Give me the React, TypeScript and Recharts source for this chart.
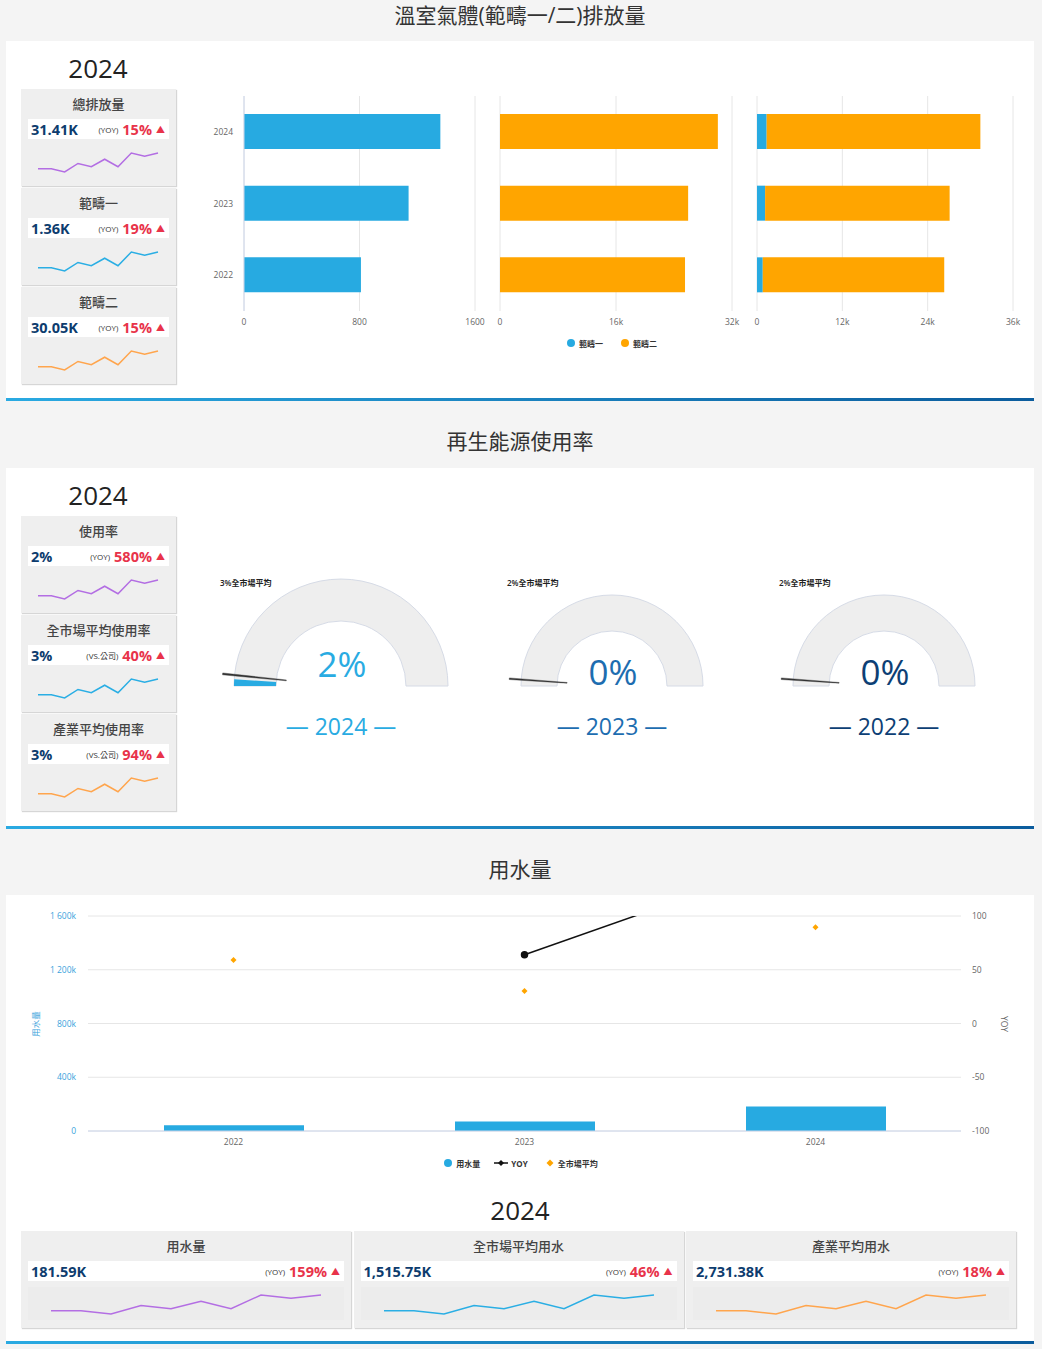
import React from 'react';
import {
  BarChart,
  Bar,
  XAxis,
  YAxis,
  CartesianGrid,
  PieChart,
  Pie,
  Cell,
  LineChart,
  Line,
  ComposedChart,
  Scatter,
} from 'recharts';

const FONT = '"Open Sans", "Noto Sans CJK TC", sans-serif';
const BLUE = '#27aae1';
const ORANGE = '#ffa500';
const NAVY = '#0d3c6e';
const RED = '#e8334a';

// ---- 溫室氣體 ----
const ghgYears = ['2024', '2023', '2022'];
const scope1 = [1360, 1140, 810];
const scope2 = [30050, 25950, 25520];
const ghgNames = ['範疇一', '範疇二'];
const ghgTicks1 = [0, 800, 1600];
const ghgTicks2 = [0, 16000, 32000];
const ghgTicks3 = [0, 12000, 24000, 36000];
const ghgCards = [
  { title: '總排放量', value: '31.41K', tag: '(YOY)', change: '15%' },
  { title: '範疇一', value: '1.36K', tag: '(YOY)', change: '19%' },
  { title: '範疇二', value: '30.05K', tag: '(YOY)', change: '15%' },
];

// ---- 再生能源 ----
const energyCards = [
  { title: '使用率', value: '2%', tag: '(YOY)', change: '580%' },
  { title: '全市場平均使用率', value: '3%', tag: '(VS.公司)', change: '40%' },
  { title: '產業平均使用率', value: '3%', tag: '(VS.公司)', change: '94%' },
];
const gaugeYears = ['2024', '2023', '2022'];
const usageRate = [2, 0, 0];
const marketRate = [3, 2, 2];
const gaugeColors = ['#29abe2', '#1d6db0', '#0d3f75'];

// ---- 用水量 ----
const waterYears = ['2022', '2023', '2024'];
const waterUsage = [42700, 70100, 181590];
const waterYoy = [null, 64, 159];
const waterMarket = [1273000, 1041000, 1515750];
const waterLeftTicks = [0, 400000, 800000, 1200000, 1600000];
const waterRightTicks = [-100, -50, 0, 50, 100];
const waterNames = ['用水量', 'YOY', '全市場平均'];
const waterCards = [
  { title: '用水量', value: '181.59K', tag: '(YOY)', change: '159%' },
  { title: '全市場平均用水', value: '1,515.75K', tag: '(YOY)', change: '46%' },
  { title: '產業平均用水', value: '2,731.38K', tag: '(YOY)', change: '18%' },
];

// sparkline trend used by every card
const sparkTrend = [13, 13, 3, 29, 19, 42, 19, 61, 51, 61];
const sparkColors = ['#b36ee3', '#2aaee4', '#ffa54d'];

const sparkData = sparkTrend.map((v, i) => ({ i, v }));
const tickStyle = { fontSize: 8.5, fill: '#666', fontFamily: FONT };
const kFmt = (v: number) => (v === 0 ? '0' : `${v / 1000}k`);

type CardInfo = { title: string; value: string; tag: string; change: string };

function KpiCard({ card, x, y, w, color, wide }: { card: CardInfo; x: number; y: number; w: number; color: string; wide?: boolean }) {
  const sparkW = wide ? w - 56 : 124;
  return (
    <div
      style={{
        position: 'absolute',
        left: x,
        top: y,
        width: w,
        height: 97,
        background: '#efefef',
        boxShadow: '1px 1px 1px #d6d6d6',
      }}
    >
      <div
        style={{
          position: 'absolute',
          left: 0,
          top: 5,
          width: '100%',
          height: 20,
          lineHeight: '20px',
          textAlign: 'center',
          fontSize: 13,
          fontWeight: 500,
          color: '#444',
        }}
      >
        {card.title}
      </div>
      <div
        style={{
          position: 'absolute',
          left: 7,
          right: 7,
          top: 30,
          height: 20,
          background: '#fff',
          display: 'flex',
          alignItems: 'center',
          padding: '0 4px 0 3px',
          boxSizing: 'border-box',
        }}
      >
        <span style={{ fontSize: 14.5, fontWeight: 700, color: NAVY }}>{card.value}</span>
        <span style={{ flex: 1 }} />
        <span style={{ fontSize: 8, color: '#333', marginRight: 4 }}>{card.tag}</span>
        <span style={{ fontSize: 14.5, fontWeight: 700, color: RED }}>{card.change}</span>
        <span style={{ fontSize: 9, color: RED, marginLeft: 4 }}>▲</span>
      </div>
      {wide && (
        <div style={{ position: 'absolute', left: 7, right: 7, top: 56, height: 33, background: '#ececec' }} />
      )}
      <div style={{ position: 'absolute', left: wide ? 28 : 15, top: 62 }}>
        <LineChart width={sparkW} height={23} data={sparkData} margin={{ top: 2, right: 2, bottom: 2, left: 2 }}>
          <XAxis dataKey="i" hide />
          <YAxis hide domain={['dataMin', 'dataMax']} />
          <Line type="linear" dataKey="v" stroke={color} strokeWidth={1.5} dot={false} isAnimationActive={false} />
        </LineChart>
      </div>
    </div>
  );
}

function SectionFrame({ title, top, panelTop, panelBottom }: { title: string; top: number; panelTop: number; panelBottom: number }) {
  return (
    <>
      <div
        style={{
          position: 'absolute',
          left: 6,
          width: 1028,
          top: top,
          height: 30,
          lineHeight: '30px',
          textAlign: 'center',
          fontSize: 21,
          color: '#333',
        }}
      >
        {title}
      </div>
      <div style={{ position: 'absolute', left: 6, width: 1028, top: panelTop, height: panelBottom - panelTop, background: '#fff' }} />
      <div
        style={{
          position: 'absolute',
          left: 6,
          width: 1028,
          top: panelBottom,
          height: 3,
          background: 'linear-gradient(to right, #2aaae2, #0b5c9d)',
        }}
      />
    </>
  );
}

function YearLabel({ cx, cy }: { cx: number; cy: number }) {
  return (
    <div
      style={{
        position: 'absolute',
        left: cx - 60,
        width: 120,
        top: cy - 18,
        height: 36,
        lineHeight: '36px',
        textAlign: 'center',
        fontSize: 26,
        color: '#222',
      }}
    >
      2024
    </div>
  );
}

function Dot({ color }: { color: string }) {
  return <span style={{ display: 'inline-block', width: 8, height: 8, borderRadius: 4, background: color, marginRight: 4 }} />;
}

function Diamond({ color }: { color: string }) {
  return (
    <svg width={8} height={8} style={{ marginRight: 4 }}>
      <path d="M4,0.5L7.5,4L4,7.5L0.5,4Z" fill={color} />
    </svg>
  );
}

function LineMarker() {
  return (
    <svg width={14} height={8} style={{ marginRight: 3 }}>
      <line x1={0} y1={4} x2={14} y2={4} stroke="#111" strokeWidth={1.5} />
      <path d="M7,1L10,4L7,7L4,4Z" fill="#111" />
    </svg>
  );
}

function GhgSection() {
  const data = ghgYears.map((year, i) => ({ year, s1: scope1[i], s2: scope2[i] }));
  const xAxisCommon = { type: 'number' as const, axisLine: false, tickLine: false, tick: tickStyle, height: 20 };
  return (
    <>
      <SectionFrame title="溫室氣體(範疇一/二)排放量" top={0} panelTop={41} panelBottom={398} />
      <YearLabel cx={98} cy={68} />
      {ghgCards.map((c, i) => (
        <KpiCard key={c.title} card={c} x={21} y={89 + i * 99} w={155} color={sparkColors[i]} />
      ))}

      <div style={{ position: 'absolute', left: 190, top: 86 }}>
        <BarChart layout="vertical" width={300} height={245} data={data} margin={{ top: 10, right: 15, bottom: 0, left: 0 }}>
          <CartesianGrid horizontal={false} stroke="#e6e6e6" />
          <XAxis {...xAxisCommon} domain={[0, 1600]} ticks={ghgTicks1} />
          <YAxis
            type="category"
            dataKey="year"
            width={54}
            axisLine={{ stroke: '#ccd6eb' }}
            tickLine={false}
            tickMargin={5}
            tick={tickStyle}
          />
          <Bar dataKey="s1" name={ghgNames[0]} fill={BLUE} barSize={35} isAnimationActive={false} />
        </BarChart>
      </div>

      <div style={{ position: 'absolute', left: 495, top: 86 }}>
        <BarChart layout="vertical" width={247} height={245} data={data} margin={{ top: 10, right: 10, bottom: 0, left: 5 }}>
          <CartesianGrid horizontal={false} stroke="#e6e6e6" />
          <XAxis {...xAxisCommon} domain={[0, 32000]} ticks={ghgTicks2} tickFormatter={kFmt} />
          <YAxis type="category" dataKey="year" width={0} axisLine={{ stroke: '#e0e0e0' }} tickLine={false} tick={false} />
          <Bar dataKey="s2" name={ghgNames[1]} fill={ORANGE} barSize={35} isAnimationActive={false} />
        </BarChart>
      </div>

      <div style={{ position: 'absolute', left: 752, top: 86 }}>
        <BarChart layout="vertical" width={271} height={245} data={data} margin={{ top: 10, right: 10, bottom: 0, left: 5 }}>
          <CartesianGrid horizontal={false} stroke="#e6e6e6" />
          <XAxis {...xAxisCommon} domain={[0, 36000]} ticks={ghgTicks3} tickFormatter={kFmt} />
          <YAxis type="category" dataKey="year" width={0} axisLine={{ stroke: '#ccd6eb' }} tickLine={false} tick={false} />
          <Bar dataKey="s1" stackId="a" name={ghgNames[0]} fill={BLUE} barSize={35} isAnimationActive={false} />
          <Bar dataKey="s2" stackId="a" name={ghgNames[1]} fill={ORANGE} barSize={35} isAnimationActive={false} />
        </BarChart>
      </div>

      <div
        style={{
          position: 'absolute',
          left: 500,
          width: 224,
          top: 336,
          height: 14,
          display: 'flex',
          justifyContent: 'center',
          alignItems: 'center',
          fontSize: 8,
          fontWeight: 700,
          color: '#333',
        }}
      >
        <Dot color={BLUE} />
        <span style={{ marginRight: 18 }}>{ghgNames[0]}</span>
        <Dot color={ORANGE} />
        <span>{ghgNames[1]}</span>
      </div>
    </>
  );
}

function Gauge({ i, cx }: { i: number; cx: number }) {
  const big = i === 0;
  const outer = big ? 107 : 91;
  const inner = big ? 65 : 55;
  const c = 130;
  const value = usageRate[i];
  const avg = marketRate[i];
  return (
    <div style={{ position: 'absolute', left: cx - c, top: 556, width: 260, height: 200 }}>
      <PieChart width={260} height={150} margin={{ top: 0, right: 0, bottom: 0, left: 0 }}>
        <Pie
          data={[{ v: 100 }]}
          dataKey="v"
          cx={c}
          cy={c}
          startAngle={180}
          endAngle={0}
          innerRadius={inner}
          outerRadius={outer}
          fill="#eeeeee"
          stroke="#d6dbe6"
          strokeWidth={1}
          isAnimationActive={false}
        />
        <Pie
          data={[{ v: value }, { v: 100 - value }]}
          dataKey="v"
          cx={c}
          cy={c}
          startAngle={180}
          endAngle={0}
          innerRadius={inner}
          outerRadius={outer}
          stroke="none"
          isAnimationActive={false}
        >
          <Cell fill={gaugeColors[i]} />
          <Cell fill="none" />
        </Pie>
        <Pie
          data={[{ v: avg }, { v: 0.5 }, { v: 100 - avg - 0.5 }]}
          dataKey="v"
          cx={c}
          cy={c}
          startAngle={180}
          endAngle={0}
          innerRadius={inner - 10}
          outerRadius={outer + 12}
          stroke="none"
          isAnimationActive={false}
        >
          <Cell fill="none" />
          <Cell fill="#333" stroke="#333" strokeWidth={0.4} />
          <Cell fill="none" />
        </Pie>
      </PieChart>
      <svg width={260} height={200} style={{ position: 'absolute', left: 0, top: 0 }}>
        <text x={c - outer - 14} y={30} fontSize={8} fontWeight={600} fill="#222" fontFamily={FONT}>
          {`${avg}%全市場平均`}
        </text>
        <text x={c + 1} y={big ? 121 : 129} fontSize={35} fill={gaugeColors[i]} textAnchor="middle" fontFamily={FONT}>
          {`${value}%`}
        </text>
        <text x={c} y={179} fontSize={23} fill={gaugeColors[i]} textAnchor="middle" fontFamily={FONT}>
          {`— ${gaugeYears[i]} —`}
        </text>
      </svg>
    </div>
  );
}

function EnergySection() {
  const centers = [341, 612, 884];
  return (
    <>
      <SectionFrame title="再生能源使用率" top={426} panelTop={468} panelBottom={826} />
      <YearLabel cx={98} cy={495} />
      {energyCards.map((c, i) => (
        <KpiCard key={c.title} card={c} x={21} y={516 + i * 99} w={155} color={sparkColors[i]} />
      ))}
      {centers.map((cx, i) => (
        <Gauge key={gaugeYears[i]} i={i} cx={cx} />
      ))}
    </>
  );
}

function DiamondShape(props: any) {
  const cx = props.cx ?? props.x + props.width / 2;
  const cy = props.cy ?? props.y + props.height / 2;
  const r = 3;
  return <path d={`M${cx},${cy - r}L${cx + r},${cy}L${cx},${cy + r}L${cx - r},${cy}Z`} fill={ORANGE} />;
}

function WaterSection() {
  const data = waterYears.map((year, i) => ({ year, usage: waterUsage[i], yoy: waterYoy[i], market: waterMarket[i] }));
  const leftFmt = (v: number) => (v === 0 ? '0' : `${(v / 1000).toLocaleString('en-US').replace(',', ' ')}k`);
  return (
    <>
      <SectionFrame title="用水量" top={854} panelTop={895} panelBottom={1341} />
      <div style={{ position: 'absolute', left: 20, top: 905 }}>
        <ComposedChart width={1010} height={246} data={data} margin={{ top: 11, right: 0, bottom: 0, left: 0 }}>
          <CartesianGrid vertical={false} stroke="#e6e6e6" yAxisId="left" />
          <XAxis dataKey="year" height={20} axisLine={{ stroke: '#ccd6eb' }} tickLine={false} tick={tickStyle} />
          <YAxis
            yAxisId="left"
            width={68}
            domain={[0, 1600000]}
            ticks={waterLeftTicks}
            tickFormatter={leftFmt}
            axisLine={false}
            tickLine={false}
            tickMargin={6}
            tick={{ ...tickStyle, fill: '#3ba3dc' }}
          />
          <YAxis
            yAxisId="right"
            orientation="right"
            width={69}
            domain={[-100, 100]}
            ticks={waterRightTicks}
            allowDataOverflow
            axisLine={false}
            tickLine={false}
            tickMargin={5}
            tick={tickStyle}
          />
          <Bar yAxisId="left" dataKey="usage" name={waterNames[0]} fill={BLUE} barSize={140} isAnimationActive={false} />
          <Line
            yAxisId="right"
            dataKey="yoy"
            name={waterNames[1]}
            stroke="#111"
            strokeWidth={1.5}
            dot={{ r: 3, fill: '#111', stroke: '#111' }}
            isAnimationActive={false}
          />
          <Scatter yAxisId="left" dataKey="market" name={waterNames[2]} shape={DiamondShape} isAnimationActive={false} />
        </ComposedChart>
      </div>
      <div
        style={{
          position: 'absolute',
          left: 36 - 20,
          top: 1024 - 8,
          width: 40,
          height: 16,
          lineHeight: '16px',
          textAlign: 'center',
          fontSize: 8.5,
          color: '#3ba3dc',
          transform: 'rotate(-90deg)',
        }}
      >
        {waterNames[0]}
      </div>
      <div
        style={{
          position: 'absolute',
          left: 1004 - 20,
          top: 1024 - 8,
          width: 40,
          height: 16,
          lineHeight: '16px',
          textAlign: 'center',
          fontSize: 8.5,
          color: '#666',
          transform: 'rotate(90deg)',
        }}
      >
        YOY
      </div>
      <div
        style={{
          position: 'absolute',
          left: 320,
          width: 402,
          top: 1156,
          height: 14,
          display: 'flex',
          justifyContent: 'center',
          alignItems: 'center',
          fontSize: 8,
          fontWeight: 700,
          color: '#333',
        }}
      >
        <Dot color={BLUE} />
        <span style={{ marginRight: 14 }}>{waterNames[0]}</span>
        <LineMarker />
        <span style={{ marginRight: 18 }}>{waterNames[1]}</span>
        <Diamond color={ORANGE} />
        <span>{waterNames[2]}</span>
      </div>
      <YearLabel cx={520} cy={1210} />
      {waterCards.map((c, i) => (
        <KpiCard key={c.title} card={c} x={21 + i * 332.5} y={1231} w={330} color={sparkColors[i]} wide />
      ))}
    </>
  );
}

export default function App() {
  return (
    <div
      style={{
        position: 'relative',
        width: 1042,
        height: 1349,
        background: '#f4f4f4',
        fontFamily: FONT,
        overflow: 'hidden',
      }}
    >
      <style>{'body{margin:0}'}</style>
      <GhgSection />
      <EnergySection />
      <WaterSection />
    </div>
  );
}
